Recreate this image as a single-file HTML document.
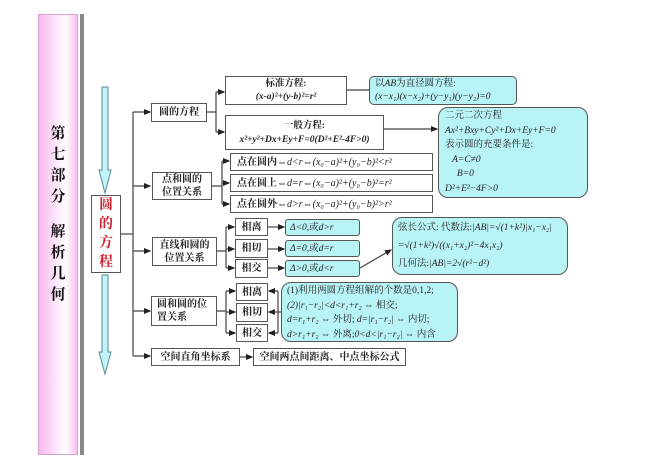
<!DOCTYPE html>
<html><head><meta charset="utf-8"><style>
body{margin:0;width:660px;height:468px;background:#fff;position:relative;overflow:hidden;font-family:"Liberation Serif","Noto Serif CJK SC",serif;}
.b{position:absolute;border:1.5px solid #555;background:#fff;box-sizing:border-box;font-weight:bold;font-size:10px;color:#222;display:flex;align-items:center;justify-content:center;text-align:center;line-height:13px;}
.c{position:absolute;border:1.5px solid #555;background:#b8f3f6;box-sizing:border-box;font-size:9.5px;color:#222;line-height:14px;padding:1px 5px;font-style:italic;}
.cs{border-radius:3px;display:flex;align-items:center;padding-left:4px;}
.r{border-radius:10px;}
.n{font-style:normal}
</style></head><body>
<div style="position:absolute;left:38px;top:14px;width:40px;height:441px;background:linear-gradient(90deg,#f7b8ef 0%,#fde6fa 45%,#fff 70%,#f7c0f0 100%);border:1px solid #d9a0d0;box-sizing:border-box;"></div>
<div style="position:absolute;left:80px;top:14px;width:4px;height:441px;background:#888;"></div>
<div style="position:absolute;left:48px;top:124px;width:20px;font-weight:bold;font-size:15px;line-height:21px;text-align:center;color:#111;">第<br>七<br>部<br>分<div style="height:14px"></div>解<br>析<br>几<br>何</div>

<svg style="position:absolute;left:0;top:0" width="660" height="468">
<defs><marker id="a" markerWidth="6" markerHeight="6" refX="5" refY="3" orient="auto"><path d="M0,0.5 L6,3 L0,5.5z" fill="#222"/></marker></defs>
<g fill="#c0f4f7" stroke="#5a8a90" stroke-width="1">
<path d="M102,87 H108 V170 H111 L105,193 L99,170 H102 Z"/>
<path d="M102,275 H108 V352 H111 L105,374 L99,352 H102 Z"/>
</g>
<g stroke="#444" stroke-width="1.2" fill="none">
<path d="M120,234 H133"/>
<path d="M133,112 V356"/>
<path d="M133,112 H150" marker-end="url(#a)"/>
<path d="M133,186 H150" marker-end="url(#a)"/>
<path d="M133,251 H150" marker-end="url(#a)"/>
<path d="M133,311 H150" marker-end="url(#a)"/>
<path d="M133,356 H150" marker-end="url(#a)"/>
<path d="M207,112 H216 M216,92 V132 M216,92 H224 M216,132 H224" />
<path d="M218,92 H224" marker-end="url(#a)"/><path d="M218,132 H224" marker-end="url(#a)"/>
<path d="M347,90 H370"/>
<path d="M384,129 H437" marker-end="url(#a)"/>
<path d="M212,186 H222 M222,161 V204"/>
<path d="M222,161 H229" marker-end="url(#a)"/><path d="M222,183 H229" marker-end="url(#a)"/><path d="M222,204 H229" marker-end="url(#a)"/>
<path d="M217,251 H226 M226,227 V268"/>
<path d="M226,227 H234" marker-end="url(#a)"/><path d="M226,249 H234" marker-end="url(#a)"/><path d="M226,268 H234" marker-end="url(#a)"/>
<path d="M268,227 H284" marker-end="url(#a)"/><path d="M268,249 H284" marker-end="url(#a)"/><path d="M268,268 H284" marker-end="url(#a)"/>
<path d="M360,268 L391,250" marker-end="url(#a)"/>
<path d="M217,311 H226 M226,291 V333"/>
<path d="M226,291 H235" marker-end="url(#a)"/><path d="M226,312 H235" marker-end="url(#a)"/><path d="M226,333 H235" marker-end="url(#a)"/>
<path d="M278,291 V333 M281,312 H278"/>
<path d="M278,291 H269" marker-end="url(#a)"/><path d="M278,312 H269" marker-end="url(#a)"/><path d="M278,333 H269" marker-end="url(#a)"/>
<path d="M240,357 H252" marker-end="url(#a)"/>
</g></svg>

<div class="b" style="left:91px;top:195px;width:30px;height:78px;color:#d0202a;font-size:14px;line-height:19px;">圆<br>的<br>方<br>程</div>
<div class="b" style="left:151px;top:103px;width:56px;height:19px;">圆的方程</div>
<div class="b" style="left:225px;top:76px;width:122px;height:29px;flex-direction:column;font-size:9.5px;line-height:13px;">标准方程:<span style="font-style:italic">(x-a)²+(y-b)²=r²</span></div>
<div class="b" style="left:225px;top:115px;width:159px;height:35px;flex-direction:column;font-size:9.5px;line-height:14px;">一般方程:<span style="font-style:italic">x²+y²+Dx+Ey+F=0(D²+E²-4F&gt;0)</span></div>
<div class="c" style="left:369px;top:76px;width:148px;height:29px;border-radius:5px;line-height:13px;"><span class="n">以</span>AB<span class="n">为直径圆方程:</span><br>(x−x₁)(x−x₂)+(y−y₁)(y−y₂)=0</div>
<div class="c r" style="left:438px;top:107px;width:150px;height:91px;line-height:14.5px;padding-left:6px;"><span class="n">二元二次方程</span><br>Ax²+Bxy+Cy²+Dx+Ey+F=0<br><span class="n">表示圆的充要条件是:</span><br>&nbsp;&nbsp;&nbsp;A=C≠0<br>&nbsp;&nbsp;&nbsp;&nbsp;&nbsp;B=0<br>D²+E²−4F&gt;0</div>
<div class="b" style="left:152px;top:172px;width:60px;height:28px;">点和圆的<br>位置关系</div>
<div class="b" style="left:230px;top:153px;width:203px;height:18px;justify-content:flex-start;padding-left:6px;">点在圆内 <span style="font-weight:normal;font-style:italic">⇔d&lt;r⇔(x₀−a)²+(y₀−b)²&lt;r²</span></div>
<div class="b" style="left:230px;top:174px;width:203px;height:18px;justify-content:flex-start;padding-left:6px;">点在圆上 <span style="font-weight:normal;font-style:italic">⇔d=r⇔(x₀−a)²+(y₀−b)²=r²</span></div>
<div class="b" style="left:230px;top:195px;width:203px;height:18px;justify-content:flex-start;padding-left:6px;">点在圆外 <span style="font-weight:normal;font-style:italic">⇔d&gt;r⇔(x₀−a)²+(y₀−b)²&gt;r²</span></div>
<div class="b" style="left:152px;top:237px;width:65px;height:29px;">直线和圆的<br>位置关系</div>
<div class="b" style="left:235px;top:218px;width:33px;height:18px;">相离</div>
<div class="b" style="left:235px;top:239px;width:33px;height:19px;">相切</div>
<div class="b" style="left:235px;top:259px;width:33px;height:19px;">相交</div>
<div class="c cs" style="left:285px;top:219px;width:75px;height:17px;">Δ&lt;0, <span class="n">或</span>d&gt;r</div>
<div class="c cs" style="left:285px;top:240px;width:75px;height:17px;">Δ=0, <span class="n">或</span>d=r</div>
<div class="c cs" style="left:285px;top:260px;width:75px;height:17px;">Δ&gt;0, <span class="n">或</span>d&lt;r</div>
<div class="c r" style="left:392px;top:217px;width:176px;height:58px;line-height:18px;"><span class="n">弦长公式: 代数法:</span>|AB|=√(1+k²)|x₁−x₂|<br>=√(1+k²)√((x₁+x₂)²−4x₁x₂)<br><span class="n">几何法:</span>|AB|=2√(r²−d²)</div>
<div class="b" style="left:151px;top:296px;width:66px;height:30px;justify-content:flex-start;padding-left:5px;text-align:left;">圆和圆的位<br>置关系</div>
<div class="b" style="left:236px;top:283px;width:32px;height:18px;">相离</div>
<div class="b" style="left:236px;top:303px;width:32px;height:19px;">相切</div>
<div class="b" style="left:236px;top:324px;width:32px;height:18px;">相交</div>
<div class="c r" style="left:281px;top:282px;width:177px;height:60px;line-height:14.5px;"><span class="n">(1)利用两圆方程组解的个数是0,1,2;</span><br>(2)|r₁−r₂|&lt;d&lt;r₁+r₂ ⇔ <span class="n">相交;</span><br>d=r₁+r₂ ⇔ <span class="n">外切;</span> d=|r₁−r₂| ⇔ <span class="n">内切;</span><br>d&gt;r₁+r₂ ⇔ <span class="n">外离;</span>0&lt;d&lt;|r₁−r₂| ⇔ <span class="n">内含</span></div>
<div class="b" style="left:151px;top:348px;width:89px;height:18px;">空间直角坐标系</div>
<div class="b" style="left:253px;top:348px;width:153px;height:18px;">空间两点间距离、中点坐标公式</div>
</body></html>
